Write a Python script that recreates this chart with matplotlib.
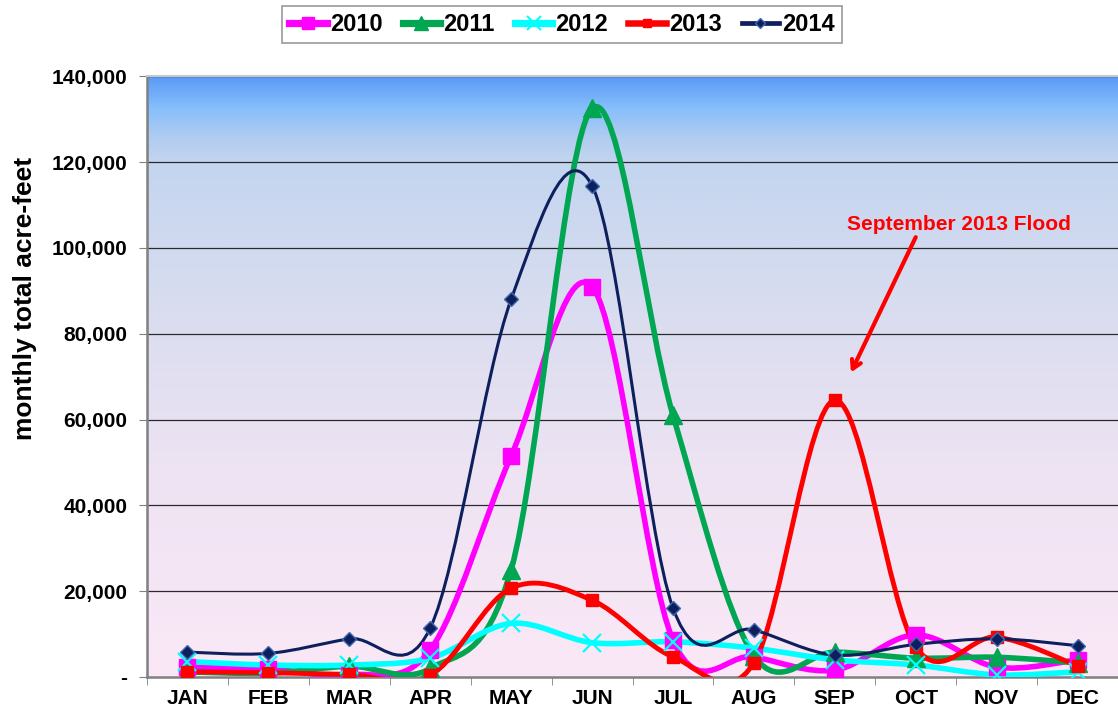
import numpy as np
import matplotlib.pyplot as plt
from matplotlib.path import Path
from matplotlib.patches import PathPatch
from matplotlib.lines import Line2D
from matplotlib.colors import LinearSegmentedColormap
from matplotlib.ticker import FuncFormatter

plt.rcParams['font.family'] = ['Liberation Sans', 'DejaVu Sans']

months = ['JAN', 'FEB', 'MAR', 'APR', 'MAY', 'JUN', 'JUL', 'AUG', 'SEP', 'OCT', 'NOV', 'DEC']

flow_2010 = [2300, 1900, 500, 6300, 51500, 91000, 8600, 4700, 1600, 9800, 2300, 4000]
flow_2011 = [1200, 900, 2500, 2000, 25000, 132500, 61000, 5000, 5800, 4400, 4600, 3300]
flow_2012 = [3600, 2800, 2800, 4400, 12500, 8000, 8200, 6700, 4000, 2800, 500, 1200]
flow_2013 = [1200, 1000, 600, 400, 20700, 17900, 4700, 3300, 64500, 7000, 9300, 2600]
flow_2014 = [5800, 5500, 8900, 11400, 88000, 114500, 16100, 11000, 5100, 7600, 8900, 7300]

series = [
    ('2010', flow_2010, '#ff00ff', 4.0, 's', 11, '#ff00ff'),
    ('2011', flow_2011, '#00a651', 4.0, '^', 13, '#00a651'),
    ('2012', flow_2012, '#00ffff', 4.0, 'x', 13, '#00ffff'),
    ('2013', flow_2013, '#ff0000', 3.5, 's', 8, '#ff0000'),
    ('2014', flow_2014, '#0d1f5c', 2.2, 'D', 7, '#3d6ab0'),
]


def smooth_path(x, y):
    # Excel-style smoothed line: Catmull-Rom segments as cubic Beziers
    pts = np.column_stack([x, y]).astype(float)
    n = len(pts)
    verts = [pts[0]]
    codes = [Path.MOVETO]
    for i in range(n - 1):
        p0 = pts[i - 1] if i > 0 else pts[i]
        p1 = pts[i]
        p2 = pts[i + 1]
        p3 = pts[i + 2] if i + 2 < n else pts[i + 1]
        c1 = p1 + (p2 - p0) / 6.0
        c2 = p2 - (p3 - p1) / 6.0
        verts += [c1, c2, p2]
        codes += [Path.CURVE4] * 3
    return Path(verts, codes)


fig = plt.figure(figsize=(11.18, 7.13), dpi=100)
ax = fig.add_axes([0.1315, 0.0505, 0.8685, 0.8425])

x = np.arange(len(months))
ax.set_xlim(-0.5, 11.5)
ax.set_ylim(0, 140000)

# gradient background: blue at the top fading to pink at the bottom
bg = LinearSegmentedColormap.from_list('bg', [
    (0.0, '#fbe8f6'), (0.35, '#ede3f3'), (0.65, '#d6dcef'),
    (0.86, '#c3d5ef'), (0.90, '#b0ccf0'), (0.95, '#85befc'), (1.0, '#5a9af6')])
grad = np.linspace(0, 1, 512).reshape(-1, 1)
ax.imshow(grad, cmap=bg, aspect='auto', origin='lower',
          extent=[-0.5, 11.5, 0, 140000], zorder=0)

for yv in range(20000, 140001, 20000):
    ax.axhline(yv, color='#2a2a2a', lw=0.9, zorder=1)

for name, vals, color, lw, marker, ms, mfc in series:
    ax.add_patch(PathPatch(smooth_path(x, vals), facecolor='none', edgecolor=color,
                           lw=lw, zorder=3, capstyle='round', joinstyle='round'))
    ax.plot(x, vals, linestyle='none', marker=marker, markersize=ms,
            markerfacecolor=mfc if marker != 'D' else color,
            markeredgecolor=color if marker != 'D' else mfc,
            markeredgewidth=1.6 if marker == 'x' else 1, zorder=4)

ax.set_xticks(x)
ax.set_xticklabels(months, fontsize=15, fontweight='bold')
ax.set_xticks(np.arange(-0.5, 11.6, 1), minor=True)
ax.tick_params(axis='x', which='major', length=0, pad=9)
ax.tick_params(axis='x', which='minor', length=6, color='#808080', direction='out')

ax.set_yticks(range(0, 140001, 20000))
ax.yaxis.set_major_formatter(FuncFormatter(lambda v, p: '-' if v == 0 else f'{int(v):,}'))
ax.tick_params(axis='y', length=6, color='#808080', labelsize=15, pad=8)
for lbl in ax.get_yticklabels():
    lbl.set_fontweight('bold')
ax.set_ylabel('monthly total acre-feet', fontsize=19, fontweight='bold')
ax.yaxis.set_label_coords(-0.113, 0.63)

ax.spines['right'].set_visible(False)
ax.spines['top'].set_color('#c8c8c8')
ax.spines['top'].set_linewidth(1.5)
for side in ['left', 'bottom']:
    ax.spines[side].set_color('#808080')
    ax.spines[side].set_linewidth(1.8)

ax.text(9.53, 105500, 'September 2013 Flood', color='#ff0000', fontsize=15,
        fontweight='bold', ha='center', va='center', zorder=5)
ax.annotate('', xy=(8.2, 71000), xytext=(9.0, 102500),
            arrowprops=dict(arrowstyle='->,head_length=0.6,head_width=0.35',
                            color='#ff0000', lw=3, shrinkA=0, shrinkB=0),
            zorder=5)

handles = []
for name, vals, color, lw, marker, ms, mfc in series:
    handles.append(Line2D([], [], color=color, lw=lw + 1.2, marker=marker,
                          markersize=ms * 0.8,
                          markerfacecolor=color,
                          markeredgecolor=color if marker != 'D' else mfc,
                          markeredgewidth=1.5 if marker == 'x' else 1,
                          label=name))
leg = fig.legend(handles=handles, loc='center', bbox_to_anchor=(0.5027, 0.9656),
                 ncol=5, frameon=True, fancybox=False, handlelength=1.6,
                 handletextpad=0.12, columnspacing=0.85, borderpad=0.3,
                 borderaxespad=0, prop={'size': 17, 'weight': 'bold'})
leg.get_frame().set_edgecolor('#808080')
leg.get_frame().set_linewidth(1.2)

fig.savefig('out.png', dpi=100)
